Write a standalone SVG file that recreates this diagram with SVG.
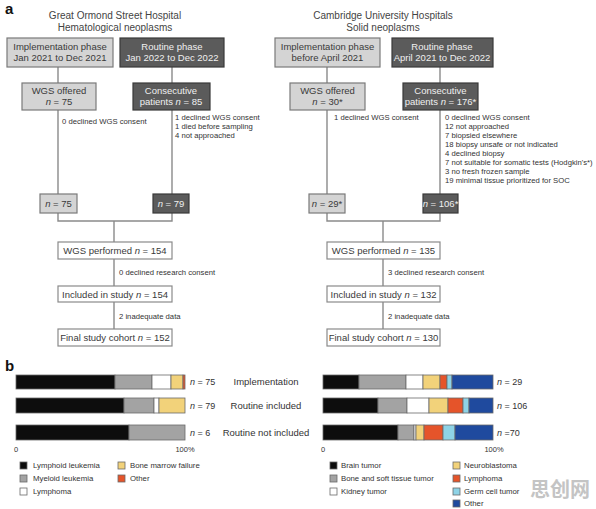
<svg xmlns="http://www.w3.org/2000/svg" width="596" height="509" viewBox="0 0 596 509">
<style>
text{font-family:"Liberation Sans",Arial,sans-serif;fill:#3a3a3a}
.title{font-size:10px;text-anchor:middle;fill:#444}
.lbl{font-size:15px;font-weight:bold;fill:#111}
.bt{font-size:9.5px;text-anchor:middle}
.bd{font-size:9.5px;text-anchor:middle;fill:#f0f0f0}
.ann{font-size:7.7px;fill:#333}
.light{fill:#d4d4d4;stroke:#7a7a7a;stroke-width:1.2}
.dark{fill:#5b5b5b;stroke:#3a3a3a;stroke-width:1.2}
.white{fill:#fff;stroke:#8a8a8a;stroke-width:1.2}
.ln{stroke:#8a8a8a;stroke-width:1.4;fill:none}
.nl{font-size:9px;fill:#333}
.rl{font-size:9.5px;text-anchor:middle;fill:#333}
.ax{font-size:7.5px;fill:#333}
.lg{font-size:7.8px;fill:#333}
.bar{stroke:#6a6a6a;stroke-width:0.8}
.k{fill:#0d0d0d}.g{fill:#a3a3a3}.w{fill:#ffffff}.y{fill:#f2d27a}.o{fill:#e5542a}.c{fill:#8ed3e6}.b{fill:#1f4a9e}
</style>

<text class="lbl" x="5" y="14">a</text>
<text class="title" x="115" y="19">Great Ormond Street Hospital</text>
<text class="title" x="115" y="31">Hematological neoplasms</text>
<text class="title" x="383" y="19">Cambridge University Hospitals</text>
<text class="title" x="383" y="31">Solid neoplasms</text>

<g id="connectors">
  <path class="ln" d="M58 67 V221 H172 V67"/>
  <path class="ln" d="M114 221 V329"/>
  <path class="ln" d="M327 67 V221 H440 V67"/>
  <path class="ln" d="M383 221 V329"/>
</g>

<g id="gosh-impl"><rect class="light" x="7" y="38" width="106" height="29"/><text class="bt" x="60" y="50">Implementation phase</text><text class="bt" x="60" y="61">Jan 2021 to Dec 2021</text></g>
<g id="gosh-routine"><rect class="dark" x="120" y="38" width="104" height="29"/><text class="bd" x="172" y="50">Routine phase</text><text class="bd" x="172" y="61">Jan 2022 to Dec 2022</text></g>
<g id="gosh-offered"><rect class="light" x="22" y="83" width="74" height="27"/><text class="bt" x="59" y="94">WGS offered</text><text class="bt" x="59" y="105"><tspan font-style="italic">n</tspan> = 75</text></g>
<g id="gosh-consec"><rect class="dark" x="133" y="83" width="77" height="27"/><text class="bd" x="171" y="94">Consecutive</text><text class="bd" x="171" y="105">patients <tspan font-style="italic">n</tspan> = 85</text></g>
<g id="gosh-ann1"><text class="ann" x="62" y="124">0 declined WGS consent</text></g>
<g id="gosh-ann2"><text class="ann" x="175" y="120">1 declined WGS consent</text><text class="ann" x="175" y="129">1 died before sampling</text><text class="ann" x="175" y="138">4 not approached</text></g>
<g id="gosh-n75"><rect class="light" x="40" y="194" width="37" height="19"/><text class="bt" x="58.5" y="207"><tspan font-style="italic">n</tspan> = 75</text></g>
<g id="gosh-n79"><rect class="dark" x="153" y="194" width="36" height="19"/><text class="bd" x="171" y="207"><tspan font-style="italic">n</tspan> = 79</text></g>
<g id="gosh-wgs"><rect class="white" x="58" y="242" width="114" height="17"/><text class="bt" x="115" y="254">WGS performed <tspan font-style="italic">n</tspan> = 154</text></g>
<g id="gosh-ann3"><text class="ann" x="119" y="275">0 declined research consent</text></g>
<g id="gosh-incl"><rect class="white" x="58" y="286" width="114" height="16"/><text class="bt" x="115" y="297.5">Included in study <tspan font-style="italic">n</tspan> = 154</text></g>
<g id="gosh-ann4"><text class="ann" x="119" y="319">2 inadequate data</text></g>
<g id="gosh-final"><rect class="white" x="58" y="329" width="114" height="17"/><text class="bt" x="115" y="341">Final study cohort <tspan font-style="italic">n</tspan> = 152</text></g>

<g id="cuh-impl"><rect class="light" x="275" y="38" width="105" height="29"/><text class="bt" x="327.5" y="50">Implementation phase</text><text class="bt" x="327.5" y="61">before April 2021</text></g>
<g id="cuh-routine"><rect class="dark" x="392" y="38" width="101" height="29"/><text class="bd" x="442" y="50">Routine phase</text><text class="bd" x="442" y="61">April 2021 to Dec 2022</text></g>
<g id="cuh-offered"><rect class="light" x="290" y="83" width="75" height="27"/><text class="bt" x="327.5" y="94">WGS offered</text><text class="bt" x="327.5" y="105"><tspan font-style="italic">n</tspan> = 30*</text></g>
<g id="cuh-consec"><rect class="dark" x="403" y="83" width="75" height="27"/><text class="bd" x="440.5" y="94">Consecutive</text><text class="bd" x="440.5" y="105">patients <tspan font-style="italic">n</tspan> = 176*</text></g>
<g id="cuh-ann1"><text class="ann" x="334" y="120">1 declined WGS consent</text></g>
<g id="cuh-ann2">
<text class="ann" x="445" y="120">0 declined WGS consent</text>
<text class="ann" x="445" y="129">12 not approached</text>
<text class="ann" x="445" y="138">7 biopsied elsewhere</text>
<text class="ann" x="445" y="147">18 biopsy unsafe or not indicated</text>
<text class="ann" x="445" y="156">4 declined biopsy</text>
<text class="ann" x="445" y="165">7 not suitable for somatic tests (Hodgkin's*)</text>
<text class="ann" x="445" y="174">3 no fresh frozen sample</text>
<text class="ann" x="445" y="183">19 minimal tissue prioritized for SOC</text>
</g>
<g id="cuh-n29"><rect class="light" x="309" y="194" width="36" height="19"/><text class="bt" x="327" y="207"><tspan font-style="italic">n</tspan> = 29*</text></g>
<g id="cuh-n106"><rect class="dark" x="423" y="194" width="35" height="19"/><text class="bd" x="440.5" y="207"><tspan font-style="italic">n</tspan> = 106*</text></g>
<g id="cuh-wgs"><rect class="white" x="327" y="242" width="113" height="17"/><text class="bt" x="383.5" y="254">WGS performed <tspan font-style="italic">n</tspan> = 135</text></g>
<g id="cuh-ann3"><text class="ann" x="388" y="275">3 declined research consent</text></g>
<g id="cuh-incl"><rect class="white" x="327" y="286" width="113" height="16"/><text class="bt" x="383.5" y="297.5">Included in study <tspan font-style="italic">n</tspan> = 132</text></g>
<g id="cuh-ann4"><text class="ann" x="388" y="319">2 inadequate data</text></g>
<g id="cuh-final"><rect class="white" x="327" y="329" width="113" height="17"/><text class="bt" x="383.5" y="341">Final study cohort <tspan font-style="italic">n</tspan> = 130</text></g>

<text class="lbl" x="5" y="371">b</text>

<g id="bars-left">
<rect class="bar k" x="16" y="375" width="99" height="14"/><rect class="bar g" x="115" y="375" width="37" height="14"/><rect class="bar w" x="152" y="375" width="19" height="14"/><rect class="bar y" x="171" y="375" width="12" height="14"/><rect class="bar o" x="183" y="375" width="2" height="14"/>
<rect class="bar k" x="16" y="398" width="108" height="15"/><rect class="bar g" x="124" y="398" width="30" height="15"/><rect class="bar w" x="154" y="398" width="5" height="15"/><rect class="bar y" x="159" y="398" width="26" height="15"/>
<rect class="bar k" x="16" y="425" width="113" height="15"/><rect class="bar g" x="129" y="425" width="56" height="15"/>
</g>
<g id="bars-right">
<rect class="bar k" x="323" y="375" width="36" height="14"/><rect class="bar g" x="359" y="375" width="47" height="14"/><rect class="bar w" x="406" y="375" width="17" height="14"/><rect class="bar y" x="423" y="375" width="17" height="14"/><rect class="bar o" x="440" y="375" width="7" height="14"/><rect class="bar c" x="447" y="375" width="5" height="14"/><rect class="bar b" x="452" y="375" width="41" height="14"/>
<rect class="bar k" x="323" y="398" width="55" height="15"/><rect class="bar g" x="378" y="398" width="29" height="15"/><rect class="bar w" x="407" y="398" width="22" height="15"/><rect class="bar y" x="429" y="398" width="19" height="15"/><rect class="bar o" x="448" y="398" width="15" height="15"/><rect class="bar c" x="463" y="398" width="6" height="15"/><rect class="bar b" x="469" y="398" width="24" height="15"/>
<rect class="bar k" x="323" y="425" width="75" height="15"/><rect class="bar g" x="398" y="425" width="16" height="15"/><rect class="bar w" x="414" y="425" width="2" height="15"/><rect class="bar y" x="416" y="425" width="8" height="15"/><rect class="bar o" x="424" y="425" width="19" height="15"/><rect class="bar c" x="443" y="425" width="12" height="15"/><rect class="bar b" x="455" y="425" width="38" height="15"/>
</g>

<g id="n-labels">
<text class="nl" x="190" y="385"><tspan font-style="italic">n</tspan> = 75</text>
<text class="nl" x="190" y="409"><tspan font-style="italic">n</tspan> = 79</text>
<text class="nl" x="190" y="436"><tspan font-style="italic">n</tspan> = 6</text>
<text class="nl" x="497" y="385"><tspan font-style="italic">n</tspan> = 29</text>
<text class="nl" x="497" y="409"><tspan font-style="italic">n</tspan> = 106</text>
<text class="nl" x="497" y="436"><tspan font-style="italic">n</tspan> =70</text>
</g>
<g id="row-labels">
<text class="rl" x="266" y="385">Implementation</text>
<text class="rl" x="266" y="409">Routine included</text>
<text class="rl" x="266" y="436">Routine not included</text>
</g>
<g id="axes">
<text class="ax" x="16" y="452" text-anchor="middle">0</text>
<text class="ax" x="185" y="452" text-anchor="middle">100%</text>
<text class="ax" x="323" y="452" text-anchor="middle">0</text>
<text class="ax" x="494" y="452" text-anchor="middle">100%</text>
</g>

<g id="legend-left">
<rect class="bar k" x="20" y="462" width="7" height="7"/><text class="lg" x="33" y="468">Lymphoid leukemia</text>
<rect class="bar g" x="20" y="475" width="7" height="7"/><text class="lg" x="33" y="481">Myeloid leukemia</text>
<rect class="bar w" x="20" y="488" width="7" height="7"/><text class="lg" x="33" y="494">Lymphoma</text>
<rect class="bar y" x="118" y="462" width="7" height="7"/><text class="lg" x="130" y="468">Bone marrow failure</text>
<rect class="bar o" x="118" y="475" width="7" height="7"/><text class="lg" x="130" y="481">Other</text>
</g>
<g id="legend-right">
<rect class="bar k" x="330" y="462" width="7" height="7"/><text class="lg" x="341" y="468">Brain tumor</text>
<rect class="bar g" x="330" y="475" width="7" height="7"/><text class="lg" x="341" y="481">Bone and soft tissue tumor</text>
<rect class="bar w" x="330" y="488" width="7" height="7"/><text class="lg" x="341" y="494">Kidney tumor</text>
<rect class="bar y" x="453" y="462" width="7" height="7"/><text class="lg" x="464" y="468">Neuroblastoma</text>
<rect class="bar o" x="453" y="475" width="7" height="7"/><text class="lg" x="464" y="481">Lymphoma</text>
<rect class="bar c" x="453" y="488" width="7" height="7"/><text class="lg" x="464" y="494">Germ cell tumor</text>
<rect class="bar b" x="453" y="500" width="7" height="7"/><text class="lg" x="464" y="506">Other</text>
</g>

<text x="530" y="497" style="font-family:'Noto Sans CJK SC',sans-serif;font-size:20px;font-weight:bold;fill:#c4c4c4">思创网</text>
</svg>
